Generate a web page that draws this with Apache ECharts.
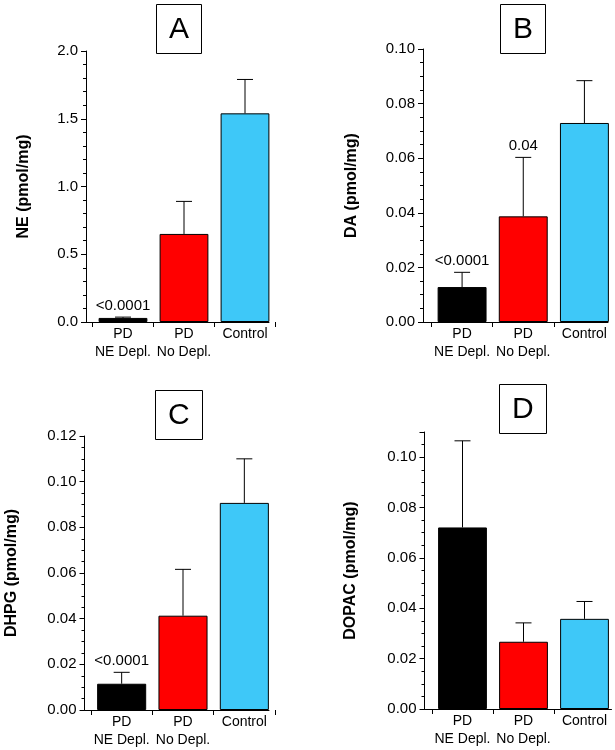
<!DOCTYPE html>
<html>
<head>
<meta charset="utf-8">
<script src="https://cdn.jsdelivr.net/npm/echarts@6/dist/echarts.min.js"></script>
<style>
html,body{margin:0;padding:0;background:#fff;}
#chart{width:615px;height:750px;}
</style>
</head>
<body>
<div id="chart"></div>
<script>
// ---- data ----
var categories = ['PD\nNE Depl.', 'PD\nNo Depl.', 'Control'];
var barColors = ['#000000', '#ff0000', '#3ec8f8'];

var neMean = [0.03, 0.65, 1.54];
var neSem = [0.006, 0.24, 0.25];
var neNote = ['<0.0001', '', ''];

var daMean = [0.0128, 0.0387, 0.0729];
var daSem = [0.0054, 0.0216, 0.0155];
var daNote = ['<0.0001', '0.04', ''];

var dhpgMean = [0.0115, 0.0413, 0.0907];
var dhpgSem = [0.005, 0.0203, 0.0193];
var dhpgNote = ['<0.0001', '', ''];

var dopacMean = [0.0721, 0.0267, 0.0358];
var dopacSem = [0.0344, 0.0075, 0.0069];
var dopacNote = ['', '', ''];

var panelLetters = ['A', 'B', 'C', 'D'];
var yNames = ['NE (pmol/mg)', 'DA (pmol/mg)', 'DHPG (pmol/mg)', 'DOPAC (pmol/mg)'];
var yTicks = [
  {min: 0, max: 2.0, interval: 0.5, decimals: 1, minor: 5},
  {min: 0, max: 0.10, interval: 0.02, decimals: 2, minor: 4},
  {min: 0, max: 0.12, interval: 0.02, decimals: 2, minor: 4},
  {min: 0, max: 0.11, interval: 0.02, decimals: 2, minor: 4}
];

// ---- layout ----
var FONT = '"Liberation Sans", Arial, Helvetica, sans-serif';
// axisX: position of the y axis line; lineEnd: right end of x axis line;
// dataLeft/dataWidth: category band area (bars sit right of the y axis)
var panels = [
  {axisX: 86, lineEnd: 269, dataLeft: 92.5, dataWidth: 183, top: 51, height: 271, nameGap: 54},
  {axisX: 423, lineEnd: 608, dataLeft: 431.5, dataWidth: 183.5, top: 49, height: 273, nameGap: 63},
  {axisX: 84.5, lineEnd: 269, dataLeft: 91, dataWidth: 184, top: 436, height: 274, nameGap: 65},
  {axisX: 424.5, lineEnd: 611.5, dataLeft: 432, dataWidth: 186, top: 432, height: 277, nameGap: 66}
];
var titlePos = [
  {left: 156, top: 4},
  {left: 500, top: 4},
  {left: 155, top: 390},
  {left: 499, top: 384}
];

var means = [neMean, daMean, dhpgMean, dopacMean];
var sems = [neSem, daSem, dhpgSem, dopacSem];
var notes = [neNote, daNote, dhpgNote, dopacNote];

var option = {
  backgroundColor: '#ffffff',
  animation: false,
  title: [], grid: [], xAxis: [], yAxis: [], series: []
};

for (var p = 0; p < 4; p++) {
  var L = panels[p];
  var gData = option.grid.length;
  var gLine = gData + 1;
  option.title.push({
    text: panelLetters[p],
    left: titlePos[p].left, top: titlePos[p].top,
    borderColor: '#000', borderWidth: 1,
    padding: [11, 13, 9, 13],
    textStyle: {fontFamily: FONT, fontSize: 30, fontWeight: 'normal', color: '#000', lineHeight: 30}
  });
  // data grid (category bands)
  option.grid.push({left: L.dataLeft, width: L.dataWidth, top: L.top, height: L.height});
  // frame grid (x axis line from the y axis to the last bar)
  option.grid.push({left: L.axisX, width: L.lineEnd - L.axisX, top: L.top, height: L.height});

  option.xAxis.push({
    type: 'category', gridIndex: gData, data: categories,
    axisLine: {show: false},
    axisTick: {show: true, length: 5, lineStyle: {color: '#000'}},
    axisLabel: {color: '#000', fontFamily: FONT, fontSize: 14, lineHeight: 18, margin: 3, interval: 0}
  });
  option.xAxis.push({
    type: 'category', gridIndex: gLine, data: categories,
    axisLine: {show: true, lineStyle: {color: '#000', width: 1}},
    axisTick: {show: false}, axisLabel: {show: false}
  });

  (function (t, L, p) {
    option.yAxis.push({
      type: 'value', gridIndex: gData, min: t.min, max: t.max, interval: t.interval,
      offset: L.dataLeft - L.axisX,
      name: yNames[p], nameLocation: 'middle', nameGap: L.nameGap,
      nameTextStyle: {fontFamily: FONT, fontSize: 16, fontWeight: 'bold', color: '#000'},
      axisLine: {show: true, lineStyle: {color: '#000', width: 1}},
      axisTick: {show: true, length: 5, lineStyle: {color: '#000'}},
      minorTick: {show: true, splitNumber: t.minor, length: 3, lineStyle: {color: '#000'}},
      splitLine: {show: false},
      axisLabel: {
        color: '#000', fontFamily: FONT, fontSize: 15, margin: 8, showMaxLabel: p === 3 ? false : true,
        formatter: function (v) { return v.toFixed(t.decimals); }
      }
    });
    option.yAxis.push({
      type: 'value', gridIndex: gLine, min: t.min, max: t.max, show: false
    });
  })(yTicks[p], L, p);

  var xi = gData, yi = gData;
  option.series.push({
    type: 'bar', xAxisIndex: xi, yAxisIndex: yi, barWidth: '80%',
    data: means[p].map(function (v, i) {
      return {value: v, itemStyle: {color: barColors[i], borderColor: '#000', borderWidth: 1}};
    }),
    z: 2
  });

  (function (mArr, sArr, nArr) {
    option.series.push({
      type: 'custom', xAxisIndex: xi, yAxisIndex: yi, z: 3,
      data: mArr.map(function (m, i) { return [i, m, m + sArr[i]]; }),
      renderItem: function (params, api) {
        var i = api.value(0);
        var base = api.coord([i, api.value(1)]);
        var top = api.coord([i, api.value(2)]);
        var cap = 8;
        var children = [
          {type: 'line', shape: {x1: base[0], y1: base[1], x2: top[0], y2: top[1]}, style: {stroke: '#000', lineWidth: 1}},
          {type: 'line', shape: {x1: top[0] - cap, y1: top[1], x2: top[0] + cap, y2: top[1]}, style: {stroke: '#000', lineWidth: 1}}
        ];
        var note = nArr[params.dataIndex];
        if (note) {
          children.push({
            type: 'text', x: top[0], y: top[1] - 4,
            style: {text: note, fill: '#000', font: '15px ' + FONT, textAlign: 'center', textVerticalAlign: 'bottom'}
          });
        }
        return {type: 'group', children: children};
      }
    });
  })(means[p], sems[p], notes[p]);
}

var chart = echarts.init(document.getElementById('chart'), null, {renderer: 'canvas'});
chart.setOption(option);
</script>
</body>
</html>
